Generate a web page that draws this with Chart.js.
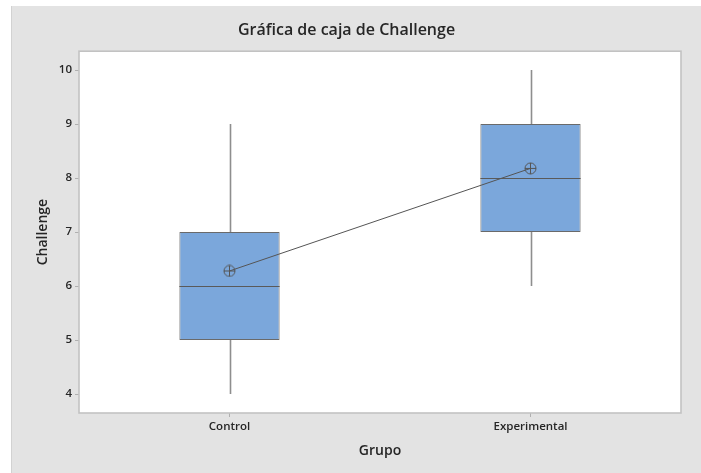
<!DOCTYPE html>
<html>
<head>
<meta charset="utf-8">
<script src="https://cdn.jsdelivr.net/npm/chart.js@4.4.1/dist/chart.umd.min.js"></script>
<style>
  html, body { margin: 0; padding: 0; background: #ffffff; }
  #panel { position: absolute; left: 11px; top: 6px; width: 690px; height: 467px; background: #e3e3e3; border-left: 1px solid #d2d2d2; box-sizing: border-box; }
  #c { position: absolute; left: 0; top: 0; }
</style>
</head>
<body>
<div id="panel"><canvas id="c" width="689" height="467"></canvas></div>
<script>
// ---- data ----
const categories = ['Control', 'Experimental'];
const whiskerLow = [4, 6];
const q1 = [5, 7];
const medians = [6, 8];
const q3 = [7, 9];
const whiskerHigh = [9, 10];
const means = [6.28, 8.18];
const yTicks = [4, 5, 6, 7, 8, 9, 10];

const titleText = 'Gráfica de caja de Challenge';
const xTitle = 'Grupo';
const yTitle = 'Challenge';

// mean symbol (circle with cross)
function meanSymbol() {
  const s = 13, c = document.createElement('canvas');
  c.width = s; c.height = s;
  const g = c.getContext('2d');
  g.strokeStyle = '#555555'; g.lineWidth = 1;
  g.beginPath(); g.arc(6.5, 6.5, 5.5, 0, Math.PI * 2); g.stroke();
  g.beginPath(); g.moveTo(1, 6.5); g.lineTo(12, 6.5); g.moveTo(6.5, 1); g.lineTo(6.5, 12); g.stroke();
  return c;
}

const boxPlugin = {
  id: 'boxParts',
  beforeDraw(chart) {
    const a = chart.chartArea, ctx = chart.ctx;
    ctx.save(); ctx.fillStyle = '#ffffff';
    ctx.fillRect(a.left, a.top, a.right - a.left, a.bottom - a.top);
    ctx.restore();
  },
  beforeDatasetsDraw(chart) {
    const ctx = chart.ctx, x = chart.scales.x, y = chart.scales.y;
    ctx.save();
    ctx.strokeStyle = '#8e8e8e'; ctx.lineWidth = 1.6;
    categories.forEach((c, i) => {
      const px = Math.round(x.getPixelForValue(i)) + 0.5;
      ctx.beginPath();
      ctx.moveTo(px, y.getPixelForValue(whiskerLow[i])); ctx.lineTo(px, y.getPixelForValue(q1[i]));
      ctx.moveTo(px, y.getPixelForValue(q3[i])); ctx.lineTo(px, y.getPixelForValue(whiskerHigh[i]));
      ctx.stroke();
    });
    ctx.restore();
  },
  afterDatasetDraw(chart, args) {
    if (args.index !== 0) return;
    const ctx = chart.ctx, y = chart.scales.y;
    const meta = chart.getDatasetMeta(0);
    ctx.save();
    ctx.strokeStyle = '#5a5a5a'; ctx.lineWidth = 1;
    meta.data.forEach((bar, i) => {
      const py = Math.round(y.getPixelForValue(medians[i])) + 0.5;
      ctx.beginPath(); ctx.moveTo(bar.x - bar.width / 2, py); ctx.lineTo(bar.x + bar.width / 2, py); ctx.stroke();
    });
    ctx.restore();
  },
  afterDraw(chart) {
    const a = chart.chartArea, ctx = chart.ctx;
    ctx.save(); ctx.strokeStyle = '#c2c2c2'; ctx.lineWidth = 1.6;
    ctx.strokeRect(a.left, a.top, a.right - a.left, a.bottom - a.top);
    ctx.restore();
  }
};

const tickFont = { family: "'Open Sans', 'Noto Sans', sans-serif", size: 11.5, weight: '600' };

new Chart(document.getElementById('c'), {
  data: {
    labels: categories,
    datasets: [
      {
        type: 'bar',
        data: categories.map((c, i) => [q1[i], q3[i]]),
        backgroundColor: '#7ba7db',
        borderColor: '#6a6a6a',
        borderWidth: 1,
        borderSkipped: false,
        barPercentage: 0.333,
        categoryPercentage: 1.0,
        order: 1
      },
      {
        type: 'line',
        data: means,
        borderColor: '#555555',
        borderWidth: 1,
        pointStyle: meanSymbol(),
        pointRadius: 6,
        fill: false,
        order: -1
      }
    ]
  },
  options: {
    responsive: false,
    animation: false,
    layout: { padding: { left: 0, right: 20, top: 0, bottom: 0 } },
    plugins: {
      legend: { display: false },
      tooltip: { enabled: false },
      title: {
        display: true, text: titleText, color: '#262626',
        font: { family: "'Open Sans', 'Noto Sans', sans-serif", size: 16, weight: '600' },
        padding: { top: 15, bottom: 11 }
      }
    },
    scales: {
      x: {
        type: 'category',
        offset: true,
        grid: { display: true, offset: false, drawOnChartArea: false, drawTicks: true, tickLength: 4, color: '#b0b0b0', tickColor: '#b0b0b0' },
        border: { display: false },
        ticks: { color: '#262626', font: tickFont, padding: 3 },
        title: { display: true, text: xTitle, color: '#262626',
          font: { family: "'Open Sans', 'Noto Sans', sans-serif", size: 14, weight: '600' },
          padding: { top: 0, bottom: 14 } },
        afterFit(s) { s.height = 60; }
      },
      y: {
        type: 'linear',
        min: 3.65, max: 10.35,
        afterBuildTicks(s) { s.ticks = yTicks.map(v => ({ value: v })); },
        grid: { display: true, drawOnChartArea: false, drawTicks: true, tickLength: 4, color: '#b0b0b0', tickColor: '#b0b0b0' },
        border: { display: false },
        ticks: { color: '#262626', font: tickFont, padding: 3 },
        title: { display: true, text: yTitle, color: '#262626',
          font: { family: "'Open Sans', 'Noto Sans', sans-serif", size: 14, weight: '600' },
          padding: { top: 23, bottom: 0 } },
        afterFit(s) { s.width = 67; }
      }
    }
  },
  plugins: [boxPlugin]
});
</script>
</body>
</html>
